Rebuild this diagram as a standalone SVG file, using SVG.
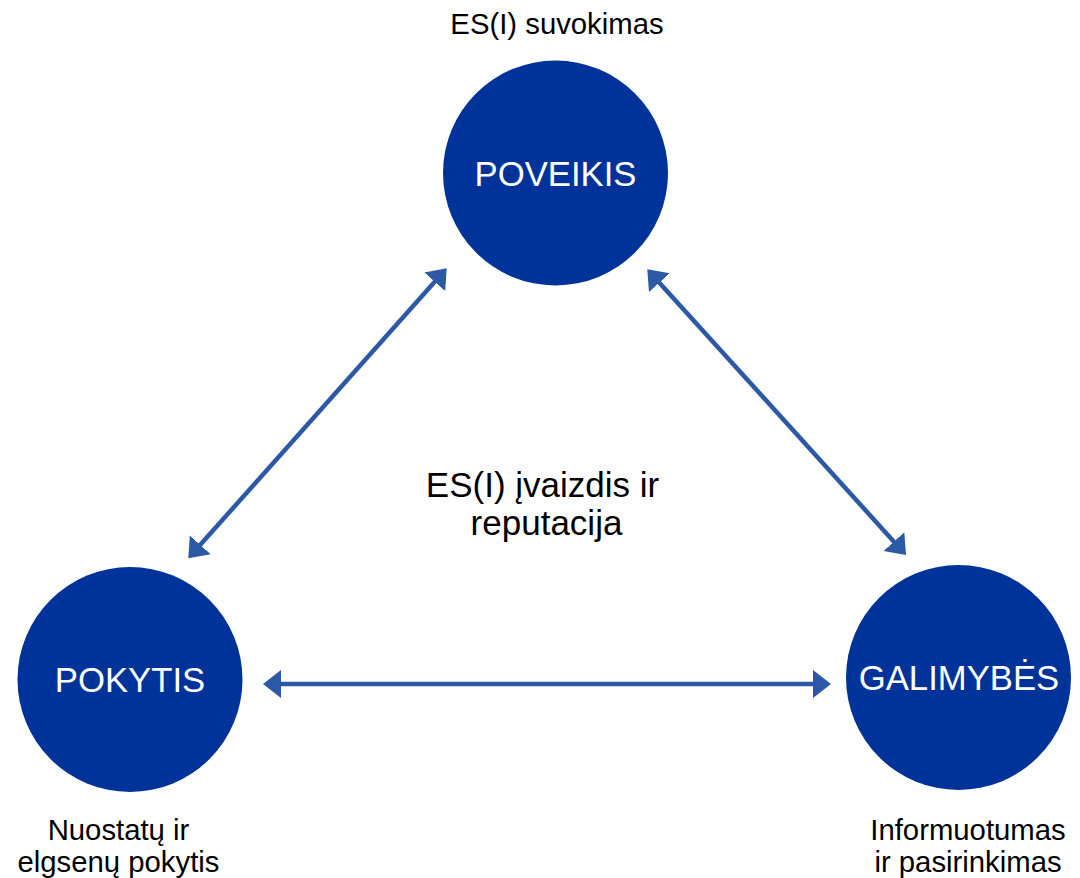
<svg xmlns="http://www.w3.org/2000/svg" width="1080" height="878" viewBox="0 0 1080 878">
  <style>
    .node { fill: #003399; }
    .nlabel { font-family: "Liberation Sans", Arial, sans-serif; font-size: 34.7px; fill: #ffffff; text-anchor: middle; }
    .label { font-family: "Liberation Sans", Arial, sans-serif; font-size: 29.3px; fill: #000000; text-anchor: middle; }
    .center { font-family: "Liberation Sans", Arial, sans-serif; font-size: 35px; fill: #000000; text-anchor: middle; }
    .conn { stroke: #2B59A6; stroke-width: 4.5; fill: none; marker-start: url(#arr); marker-end: url(#arr); }
  </style>
  <defs>
    <marker id="arr" markerUnits="userSpaceOnUse" viewBox="0 -15 20 30" refX="1" refY="0" markerWidth="20" markerHeight="30" orient="auto-start-reverse">
      <path d="M0,-14 L18,0 L0,14 Z" fill="#2B59A6"/>
    </marker>
  </defs>
  <rect width="1080" height="878" fill="#ffffff"/>

  <g id="connectors">
    <line class="conn" x1="199.6" y1="545.6" x2="435.4" y2="281.0"/>
    <line class="conn" x1="658.7" y1="281.9" x2="894.6" y2="542.4"/>
    <line class="conn" x1="280" y1="684" x2="814" y2="684"/>
  </g>

  <g id="node-poveikis">
    <circle class="node" cx="555.5" cy="173" r="112.5"/>
    <text class="nlabel" x="555.5" y="186">POVEIKIS</text>
    <text class="label" x="557" y="34">ES(I) suvokimas</text>
  </g>

  <g id="node-pokytis">
    <circle class="node" cx="130" cy="679.5" r="112.5"/>
    <text class="nlabel" x="130" y="692">POKYTIS</text>
    <text class="label" x="118.5" y="840">Nuostatų ir</text>
    <text class="label" x="118.5" y="872">elgsenų pokytis</text>
  </g>

  <g id="node-galimybes">
    <circle class="node" cx="958.5" cy="677.5" r="112.5"/>
    <text class="nlabel" x="959" y="690">GALIMYBĖS</text>
    <text class="label" x="968" y="840">Informuotumas</text>
    <text class="label" x="968" y="872">ir pasirinkimas</text>
  </g>

  <g id="center-label">
    <text class="center" x="542.5" y="497">ES(I) įvaizdis ir</text>
    <text class="center" x="546.5" y="535">reputacija</text>
  </g>
</svg>
